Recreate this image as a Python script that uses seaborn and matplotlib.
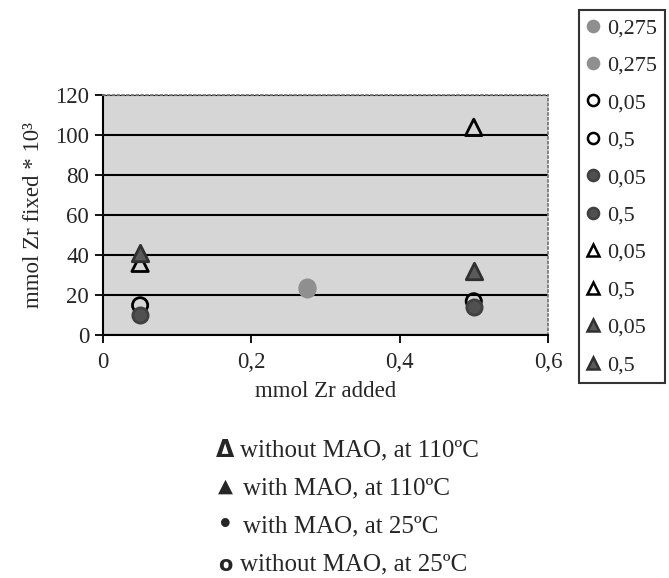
import pandas as pd
import matplotlib.pyplot as plt
import seaborn as sns

# one point per legend entry, in legend order
labels = ["0,275", "0,275", "0,05", "0,5", "0,05", "0,5", "0,05", "0,5", "0,05", "0,5"]
x_added = [0.275, 0.275, 0.05, 0.5, 0.05, 0.5, 0.05, 0.5, 0.05, 0.5]
y_fixed = [24, 23, 15, 17, 10, 14, 36, 104, 41, 32]
markers = ["o", "o", "o", "o", "o", "o", "^", "^", "^", "^"]
faces = ["#8f8f8f", "#8f8f8f", "none", "none", "#505050", "#505050",
         "none", "none", "#5a5a5a", "#5a5a5a"]
edges = ["#8f8f8f", "#8f8f8f", "black", "black", "#404040", "#404040",
         "black", "black", "#303030", "#303030"]

note_symbols = ["Δ", "▲", "•", "o"]
notes = ["without MAO, at 110ºC", "with MAO, at 110ºC",
         "with MAO, at 25ºC", "without MAO, at 25ºC"]

df = pd.DataFrame({"added": x_added, "fixed": y_fixed, "label": labels})

sns.set_style("white")
plt.rcParams["font.family"] = ["Liberation Serif", "DejaVu Sans"]

fig = plt.figure(figsize=(6.69, 5.78), dpi=100)
ax = fig.add_axes([0.154, 0.42, 0.665, 0.415])
ax.set_facecolor("#d6d6d6")

handles = []
for i in range(len(df)):
    sub = df.iloc[[i]]
    sns.scatterplot(data=sub, x="added", y="fixed", ax=ax, marker=markers[i],
                    s=120 if markers[i] == "o" else 140,
                    facecolor=faces[i], edgecolor=edges[i], linewidth=2, zorder=3)
    h = plt.Line2D([], [], linestyle="none", marker=markers[i], markersize=8,
                   markerfacecolor=faces[i] if faces[i] != "none" else "white",
                   markeredgecolor=edges[i], markeredgewidth=1.8)
    handles.append(h)

ax.set_xlim(0, 0.6)
ax.set_ylim(0, 120)
ax.set_xticks([0, 0.2, 0.4, 0.6])
ax.set_xticklabels(["0", "0,2", "0,4", "0,6"])
ax.set_yticks(range(0, 121, 20))
ax.yaxis.grid(True, color="black", linewidth=1.5)
ax.set_axisbelow(True)
ax.tick_params(axis="both", labelsize=16.5, direction="out", length=6,
               width=1.3, color="black", left=True, bottom=True, pad=4)
ax.tick_params(axis="x", pad=6)
for side in ["left", "bottom"]:
    ax.spines[side].set_color("black")
    ax.spines[side].set_linewidth(1.5)
for side in ["top", "right"]:
    ax.spines[side].set_color("#7a7a7a")
    ax.spines[side].set_linestyle(":")
    ax.spines[side].set_linewidth(1.3)

ax.set_xlabel("mmol Zr added", fontsize=16.5, labelpad=6)
ax.set_ylabel("mmol Zr fixed * 10³", fontsize=16.5, labelpad=8)

leg = fig.legend(handles, labels, loc="upper left",
                 bbox_to_anchor=(579 / 669, 1 - 10 / 578), bbox_transform=fig.transFigure,
                 frameon=True, fancybox=False, fontsize=16, labelspacing=0.76,
                 handlelength=0.6, handletextpad=0.3, borderpad=0.35, borderaxespad=0)
leg.get_frame().set_edgecolor("black")
leg.get_frame().set_linewidth(1.5)

sym_sizes = [17, 14, 26, 15]
sym_fonts = ["DejaVu Sans", "DejaVu Sans", "Liberation Serif", "DejaVu Sans"]
for k, (sym, note) in enumerate(zip(note_symbols, notes)):
    yc = 1 - (450 + 38.3 * k) / 578
    fig.text(225 / 669, yc + (0.004 if k == 1 else 0), sym, fontsize=sym_sizes[k],
             family=sym_fonts[k], fontweight="bold" if k in (0, 3) else "normal",
             va="center", ha="center")
    fig.text((240 if k in (0, 3) else 243) / 669, yc, note, fontsize=18,
             va="center", ha="left")

fig.savefig("out.png", dpi=100)
